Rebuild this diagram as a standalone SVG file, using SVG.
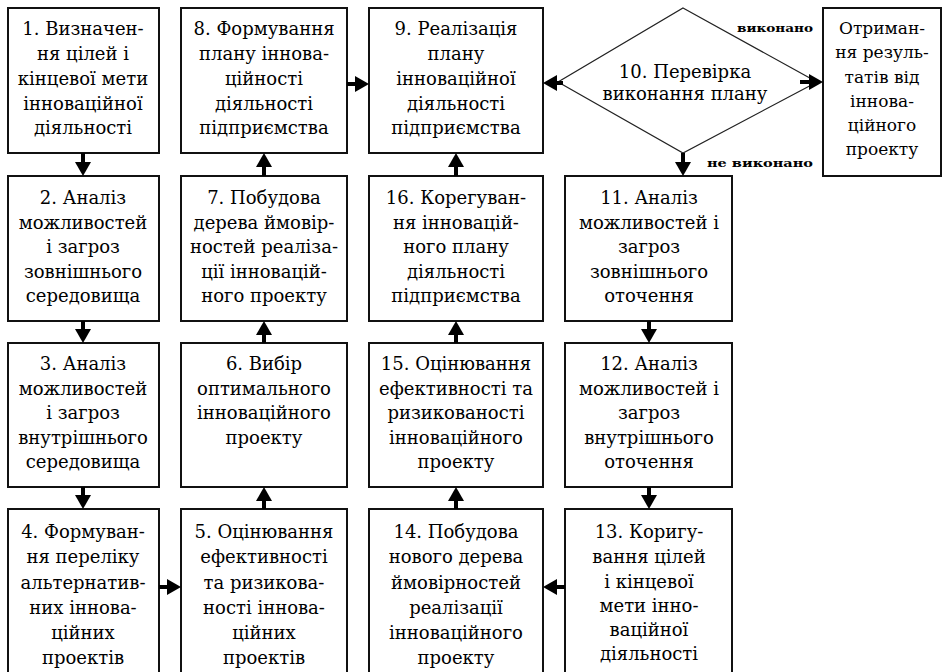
<svg xmlns="http://www.w3.org/2000/svg" width="947" height="672" viewBox="0 0 947 672">
<style>
.box{fill:#fff;stroke:#111;stroke-width:2}
.dia{fill:#fff;stroke:#222;stroke-width:1.2}
text{font-family:"DejaVu Serif","Liberation Serif",serif;font-size:18px;fill:#000;text-anchor:middle}
.sm{font-size:17px}
.lbl{font-size:11px;font-weight:bold;text-anchor:end}
.arr{stroke:#000;stroke-width:4;fill:none;marker-end:url(#ah)}
</style>
<defs>
<marker id="ah" markerUnits="userSpaceOnUse" viewBox="0 0 14 16" markerWidth="14" markerHeight="16" refX="2" refY="8" orient="auto">
<path d="M0,0 L14,8 L0,16 z" fill="#000"/>
</marker>
</defs>
<rect width="947" height="672" fill="#fff"/>

<g id="n1"><rect class="box" x="8" y="8" width="151" height="145"/>
<text x="83"><tspan x="83" y="35">1. Визначен-</tspan><tspan x="83" y="60">ня цілей і</tspan><tspan x="83" y="85">кінцевої мети</tspan><tspan x="83" y="110">інноваційної</tspan><tspan x="83" y="134">діяльності</tspan></text></g>

<g id="n8"><rect class="box" x="181" y="8" width="166" height="145"/>
<text x="264"><tspan x="264" y="35">8. Формування</tspan><tspan x="264" y="60">плану іннова-</tspan><tspan x="264" y="85">ційності</tspan><tspan x="264" y="110">діяльності</tspan><tspan x="264" y="134">підприємства</tspan></text></g>

<g id="n9"><rect class="box" x="369" y="8" width="174" height="145"/>
<text x="456"><tspan x="456" y="35">9. Реалізація</tspan><tspan x="456" y="60">плану</tspan><tspan x="456" y="85">інноваційної</tspan><tspan x="456" y="110">діяльності</tspan><tspan x="456" y="134">підприємства</tspan></text></g>

<g id="n10"><polygon class="dia" points="683,8 817,82 683,153 558,82"/>
<text x="685"><tspan x="685" y="78">10. Перевірка</tspan><tspan x="685" y="100">виконання плану</tspan></text></g>

<g id="nres"><rect class="box" x="823" y="8" width="118" height="168"/>
<text class="sm" x="882"><tspan x="882" y="34">Отриман-</tspan><tspan x="882" y="58">ня резуль-</tspan><tspan x="882" y="83">татів від</tspan><tspan x="882" y="107">іннова-</tspan><tspan x="882" y="131">ційного</tspan><tspan x="882" y="155">проекту</tspan></text></g>

<g id="n2"><rect class="box" x="8" y="176" width="151" height="145"/>
<text x="83"><tspan x="83" y="204">2. Аналіз</tspan><tspan x="83" y="229">можливостей</tspan><tspan x="83" y="253">і загроз</tspan><tspan x="83" y="278">зовнішнього</tspan><tspan x="83" y="302">середовища</tspan></text></g>

<g id="n7"><rect class="box" x="181" y="176" width="166" height="145"/>
<text x="264"><tspan x="264" y="204">7. Побудова</tspan><tspan x="264" y="229">дерева ймовір-</tspan><tspan x="264" y="253">ностей реаліза-</tspan><tspan x="264" y="278">ції інновацій-</tspan><tspan x="264" y="302">ного проекту</tspan></text></g>

<g id="n16"><rect class="box" x="369" y="176" width="174" height="145"/>
<text x="456"><tspan x="456" y="204">16. Корегуван-</tspan><tspan x="456" y="229">ня інновацій-</tspan><tspan x="456" y="253">ного плану</tspan><tspan x="456" y="278">діяльності</tspan><tspan x="456" y="302">підприємства</tspan></text></g>

<g id="n11"><rect class="box" x="565" y="176" width="167" height="145"/>
<text x="649"><tspan x="649" y="204">11. Аналіз</tspan><tspan x="649" y="229">можливостей і</tspan><tspan x="649" y="253">загроз</tspan><tspan x="649" y="278">зовнішнього</tspan><tspan x="649" y="302">оточення</tspan></text></g>

<g id="n3"><rect class="box" x="8" y="343" width="151" height="144"/>
<text x="83"><tspan x="83" y="370">3. Аналіз</tspan><tspan x="83" y="395">можливостей</tspan><tspan x="83" y="419">і загроз</tspan><tspan x="83" y="444">внутрішнього</tspan><tspan x="83" y="468">середовища</tspan></text></g>

<g id="n6"><rect class="box" x="181" y="343" width="166" height="144"/>
<text x="264"><tspan x="264" y="370">6. Вибір</tspan><tspan x="264" y="395">оптимального</tspan><tspan x="264" y="419">інноваційного</tspan><tspan x="264" y="444">проекту</tspan></text></g>

<g id="n15"><rect class="box" x="369" y="343" width="174" height="144"/>
<text x="456"><tspan x="456" y="370">15. Оцінювання</tspan><tspan x="456" y="395">ефективності та</tspan><tspan x="456" y="419">ризикованості</tspan><tspan x="456" y="444">інноваційного</tspan><tspan x="456" y="468">проекту</tspan></text></g>

<g id="n12"><rect class="box" x="565" y="343" width="167" height="144"/>
<text x="649"><tspan x="649" y="370">12. Аналіз</tspan><tspan x="649" y="395">можливостей і</tspan><tspan x="649" y="419">загроз</tspan><tspan x="649" y="444">внутрішнього</tspan><tspan x="649" y="468">оточення</tspan></text></g>

<g id="n4"><rect class="box" x="8" y="509" width="151" height="180"/>
<text x="83"><tspan x="83" y="538">4. Формуван-</tspan><tspan x="83" y="563">ня переліку</tspan><tspan x="83" y="589">альтернатив-</tspan><tspan x="83" y="614">них іннова-</tspan><tspan x="83" y="639">ційних</tspan><tspan x="83" y="664">проектів</tspan></text></g>

<g id="n5"><rect class="box" x="181" y="509" width="166" height="180"/>
<text x="264"><tspan x="264" y="538">5. Оцінювання</tspan><tspan x="264" y="563">ефективності</tspan><tspan x="264" y="589">та ризикова-</tspan><tspan x="264" y="614">ності іннова-</tspan><tspan x="264" y="639">ційних</tspan><tspan x="264" y="664">проектів</tspan></text></g>

<g id="n14"><rect class="box" x="369" y="509" width="174" height="180"/>
<text x="456"><tspan x="456" y="538">14. Побудова</tspan><tspan x="456" y="563">нового дерева</tspan><tspan x="456" y="589">ймовірностей</tspan><tspan x="456" y="614">реалізації</tspan><tspan x="456" y="639">інноваційного</tspan><tspan x="456" y="664">проекту</tspan></text></g>

<g id="n13"><rect class="box" x="565" y="509" width="167" height="180"/>
<text x="649"><tspan x="649" y="538">13. Коригу-</tspan><tspan x="649" y="563">вання цілей</tspan><tspan x="649" y="588">і кінцевої</tspan><tspan x="649" y="612">мети інно-</tspan><tspan x="649" y="636">ваційної</tspan><tspan x="649" y="660">діяльності</tspan></text></g>

<g id="connectors">
<line class="arr" x1="83" y1="153" x2="83" y2="164"/>
<line class="arr" x1="83" y1="321" x2="83" y2="331"/>
<line class="arr" x1="83" y1="487" x2="83" y2="497"/>
<line class="arr" x1="159" y1="587" x2="169" y2="587"/>
<line class="arr" x1="264" y1="509" x2="264" y2="499"/>
<line class="arr" x1="264" y1="343" x2="264" y2="333"/>
<line class="arr" x1="264" y1="176" x2="264" y2="165"/>
<line class="arr" x1="347" y1="84" x2="357" y2="84"/>
<line class="arr" x1="563" y1="83" x2="555" y2="83"/>
<line class="arr" x1="800" y1="82" x2="811" y2="82"/>
<line class="arr" x1="683" y1="153" x2="683" y2="164"/>
<line class="arr" x1="649" y1="321" x2="649" y2="331"/>
<line class="arr" x1="649" y1="487" x2="649" y2="497"/>
<line class="arr" x1="565" y1="587" x2="555" y2="587"/>
<line class="arr" x1="456" y1="509" x2="456" y2="499"/>
<line class="arr" x1="456" y1="343" x2="456" y2="333"/>
<line class="arr" x1="456" y1="176" x2="456" y2="165"/>
<text class="lbl" x="813" y="32" textLength="76" lengthAdjust="spacingAndGlyphs">виконано</text>
<text class="lbl" x="813" y="167" textLength="106" lengthAdjust="spacingAndGlyphs">не виконано</text>
</g>
</svg>
